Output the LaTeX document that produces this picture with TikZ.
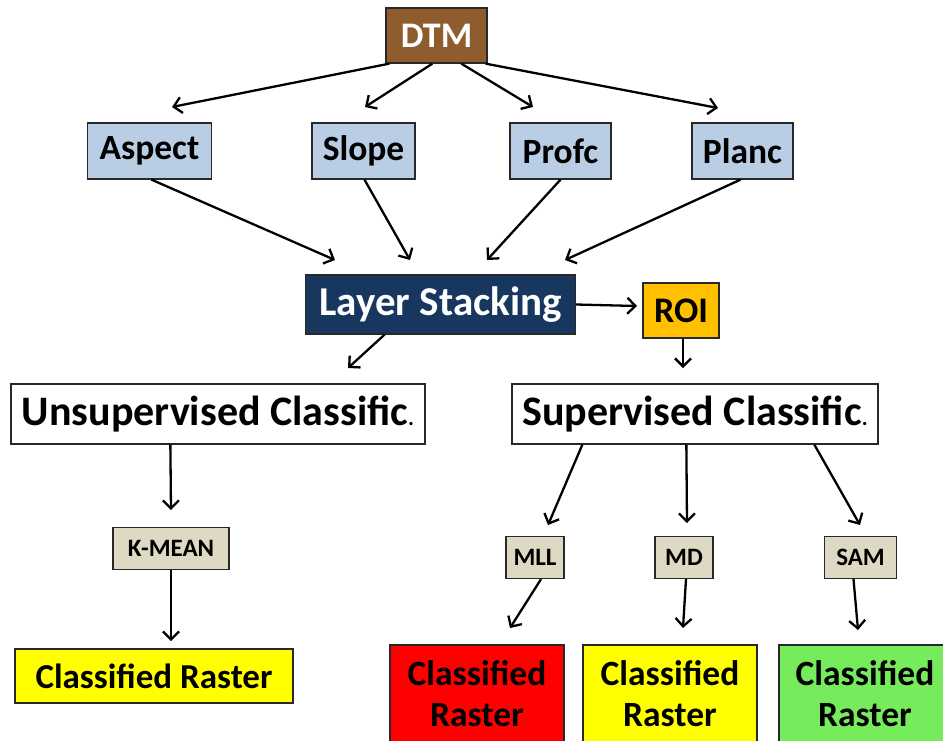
\documentclass[tikz,border=0pt]{standalone}
\usepackage{fontspec}
\setmainfont{Carlito}
\usetikzlibrary{arrows.meta,calc}

\definecolor{dtmbrown}{RGB}{143,92,46}
\definecolor{paleblue}{RGB}{185,205,229}
\definecolor{navy}{RGB}{23,55,94}
\definecolor{amber}{RGB}{255,192,0}
\definecolor{tan}{RGB}{221,217,195}
\definecolor{ryellow}{RGB}{255,255,0}
\definecolor{rred}{RGB}{255,0,0}
\definecolor{rgreen}{RGB}{118,236,92}
\definecolor{edge}{RGB}{40,40,40}

\tikzset{
  box/.style={draw=edge, line width=1.3pt, inner sep=0pt, font=\bfseries},
  param/.style={box, fill=paleblue, minimum width=#1, minimum height=56pt, font=\bfseries\fontsize{35.5}{40}\selectfont},
  algo/.style={box, fill=tan, minimum width=#1, minimum height=42pt, font=\bfseries\fontsize{25}{30}\selectfont},
  classbox/.style={box, fill=white, minimum height=60pt, font=\bfseries\fontsize{42}{48}\selectfont},
  rasterbox/.style={box, fill=#1, minimum width=174pt, minimum height=98pt, align=center,
    font=\bfseries\fontsize{35.5}{41}\selectfont},
  arr/.style={line width=2.3pt, -{Straight Barb[length=8pt,width=16pt]}}
}

\begin{document}
\begin{tikzpicture}[x=1pt,y=-1pt]
\useasboundingbox (0,0) rectangle (943,740);
\clip (0,0) rectangle (943,740);

% source and derived terrain parameters
\node[box, fill=dtmbrown, text=white, minimum width=101pt, minimum height=55pt,
      font=\bfseries\fontsize{36}{40}\selectfont] (dtm) at (436.5,35.5) {DTM};
\node[param=124pt] (aspect) at (149.5,151) {Aspect};
\node[param=103pt] (slope)  at (363.5,151) {Slope};
\node[param=101pt] (profc)  at (560.5,151) {Profc};
\node[param=101pt] (planc)  at (742.5,151) {Planc};

% stacking and training regions
\node[box, fill=navy, text=white, minimum width=270pt, minimum height=59pt,
      font=\bfseries\fontsize{41}{46}\selectfont] (stack) at (440.5,304.5) {Layer Stacking};
\node[box, fill=amber, minimum width=76pt, minimum height=55pt,
      font=\bfseries\fontsize{36}{40}\selectfont] (roi) at (681,310.5) {ROI};

% classification branches
\node[classbox, minimum width=414pt] (unsup) at (218,414) {Unsupervised Classific{\fontsize{22}{24}\selectfont.}};
\node[classbox, minimum width=366pt] (sup)   at (695,414) {Supervised Classific{\fontsize{22}{24}\selectfont.}};

\node[algo=116pt] (kmean) at (171,548.5) {K-MEAN};
\node[algo=58pt]  (mll)   at (535,557.5) {MLL};
\node[algo=58pt]  (md)    at (684,557.5) {MD};
\node[algo=72pt]  (sam)   at (860.5,557.5) {SAM};

% outputs
\node[box, fill=ryellow, minimum width=278pt, minimum height=54pt,
      font=\bfseries\fontsize{35}{40}\selectfont] (rastA) at (154,676) {Classified Raster};
\node[rasterbox=rred]    (rastR) at (477,694) {Classified\\Raster};
\node[rasterbox=ryellow] (rastY) at (670,694) {Classified\\Raster};
\node[rasterbox=rgreen, minimum width=172pt] (rastG) at (865,694) {Classified\\Raster};

% arrow tips (free ends)
\coordinate (tAspect) at (172,107);
\coordinate (tSlope)  at (365,107);
\coordinate (tProfc)  at (533,107);
\coordinate (tPlanc)  at (718,108);
\coordinate (tStackA) at (335,260);
\coordinate (tStackB) at (410,260);
\coordinate (tStackC) at (487,260);
\coordinate (tStackD) at (565,260);
\coordinate (tRoi)    at (637,306);
\coordinate (tUnsup)  at (348,368);
\coordinate (tSup)    at (683,368);
\coordinate (tKmean)  at (171,510);
\coordinate (tMll)    at (548,525);
\coordinate (tMd)     at (687,523);
\coordinate (tSam)    at (860,525);
\coordinate (tRastA)  at (171,641);
\coordinate (tRastR)  at (510,628);
\coordinate (tRastY)  at (683,628);
\coordinate (tRastG)  at (858,630);

% connectors
\draw[arr] ($(dtm.south west)+(4,0)$)  -- (tAspect);
\draw[arr] ($(dtm.south west)+(47,0)$) -- (tSlope);
\draw[arr] ($(dtm.south west)+(76,0)$) -- (tProfc);
\draw[arr] ($(dtm.south east)+(-2,0)$) -- (tPlanc);

\draw[arr] ($(aspect.south)+(2,0)$) -- (tStackA);
\draw[arr] ($(slope.south)+(1,0)$)  -- (tStackB);
\draw[arr] (profc.south) -- (tStackC);
\draw[arr] ($(planc.south)+(-2,0)$) -- (tStackD);

\draw[arr] (stack.east) -- (tRoi);
\draw[arr] ($(stack.south)+(-56,0)$) -- (tUnsup);
\draw[arr] ($(roi.south)+(2,0)$) -- (tSup);

\draw[arr] ($(unsup.south west)+(160,0)$) -- (tKmean);
\draw[arr] ($(sup.south west)+(71,0)$)  -- (tMll);
\draw[arr] ($(sup.south west)+(175,0)$) -- (tMd);
\draw[arr] ($(sup.south west)+(303,0)$) -- (tSam);

\draw[arr] (kmean.south) -- (tRastA);
\draw[arr] ($(mll.south)+(6,0)$) -- (tRastR);
\draw[arr] ($(md.south)+(2,0)$)  -- (tRastY);
\draw[arr] ($(sam.south)+(-7,0)$) -- (tRastG);
\end{tikzpicture}
\end{document}
